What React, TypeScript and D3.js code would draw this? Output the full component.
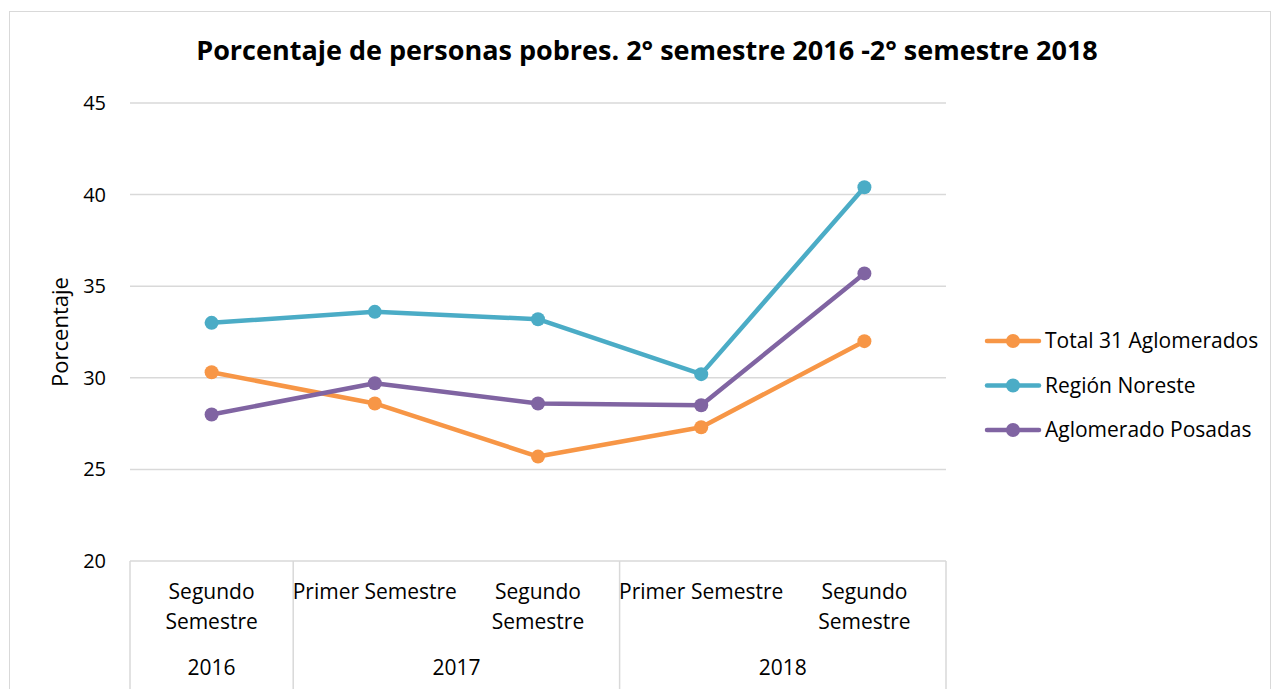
import React from "react";
import * as d3 from "d3";

const semesters = ["Segundo Semestre", "Primer Semestre", "Segundo Semestre", "Primer Semestre", "Segundo Semestre"];
const years = ["2016", "2017", "2018"];
const yearSpans = [1, 2, 2];
const seriesNames = ["Total 31 Aglomerados", "Región Noreste", "Aglomerado Posadas"];
const total31 = [30.3, 28.6, 25.7, 27.3, 32.0];
const noreste = [33.0, 33.6, 33.2, 30.2, 40.4];
const posadas = [28.0, 29.7, 28.6, 28.5, 35.7];
const colors = ["#F79646", "#4BACC6", "#8064A2"];
const yTicks = [20, 25, 30, 35, 40, 45];

const FONT = "'Open Sans', sans-serif";

export default function App() {
  const W = 1273, H = 689;
  const left = 130, right = 946, top = 103, bottom = 561;
  const seriesData = [total31, noreste, posadas];
  const x = d3.scaleBand<number>().domain(d3.range(semesters.length)).range([left, right]).padding(0);
  const y = d3.scaleLinear().domain([20, 45]).range([bottom, top]);
  const cx = (i: number) => (x(i) as number) + x.bandwidth() / 2;
  const line = d3.line<number>().x((_, i) => cx(i)).y((d) => y(d));

  const bounds: number[] = [0];
  yearSpans.forEach((s) => bounds.push(bounds[bounds.length - 1] + s));
  const bx = (k: number) => (k < semesters.length ? (x(k) as number) : right);

  return (
    <svg width={W} height={H} style={{ position: "absolute", left: 0, top: 0, background: "#fff" }} fontFamily={FONT}>
      <rect x={9.5} y={11.5} width={1261} height={700} fill="#fff" stroke="#d9d9d9" strokeWidth={1} />
      <text x={647} y={60} textAnchor="middle" fontSize={27} fontWeight="bold" fill="#000">
        Porcentaje de personas pobres. 2° semestre 2016 -2° semestre 2018
      </text>
      {yTicks.map((t) => (
        <g key={t}>
          {t !== 20 && <line x1={left} x2={right} y1={y(t)} y2={y(t)} stroke="#d9d9d9" strokeWidth={1.5} />}
          <text x={106} y={y(t)} dy="0.35em" textAnchor="end" fontSize={20} fill="#000">{t}</text>
        </g>
      ))}
      <text transform={`translate(68,${(top + bottom) / 2}) rotate(-90)`} textAnchor="middle" fontSize={22} fill="#000">
        Porcentaje
      </text>
      <line x1={left} x2={right} y1={bottom} y2={bottom} stroke="#d9d9d9" strokeWidth={1.5} />
      {bounds.map((b, k) => (
        <line key={k} x1={bx(b)} x2={bx(b)} y1={bottom} y2={H + 10} stroke="#d9d9d9" strokeWidth={1.5} />
      ))}
      {semesters.map((s, i) => {
        const words = s === "Segundo Semestre" ? ["Segundo", "Semestre"] : [s];
        return (
          <text key={i} x={cx(i)} y={599} textAnchor="middle" fontSize={21} fill="#000">
            {words.map((w, j) => (
              <tspan key={j} x={cx(i)} dy={j === 0 ? 0 : 30}>{w}</tspan>
            ))}
          </text>
        );
      })}
      {years.map((yr, k) => (
        <text key={yr} x={(bx(bounds[k]) + bx(bounds[k + 1])) / 2} y={675} textAnchor="middle" fontSize={21} fill="#000">
          {yr}
        </text>
      ))}
      {seriesData.map((data, s) => (
        <g key={s}>
          <path d={line(data) as string} fill="none" stroke={colors[s]} strokeWidth={4.5} strokeLinejoin="round" strokeLinecap="round" />
          {data.map((v, i) => (
            <circle key={i} cx={cx(i)} cy={y(v)} r={7} fill={colors[s]} />
          ))}
        </g>
      ))}
      {seriesNames.map((n, s) => {
        const ly = 341 + s * 44.5;
        return (
          <g key={n}>
            <line x1={987} x2={1039} y1={ly} y2={ly} stroke={colors[s]} strokeWidth={4.5} strokeLinecap="round" />
            <circle cx={1013} cy={ly} r={7} fill={colors[s]} />
            <text x={1045} y={ly} dy="0.35em" fontSize={21} fill="#000">{n}</text>
          </g>
        );
      })}
    </svg>
  );
}
